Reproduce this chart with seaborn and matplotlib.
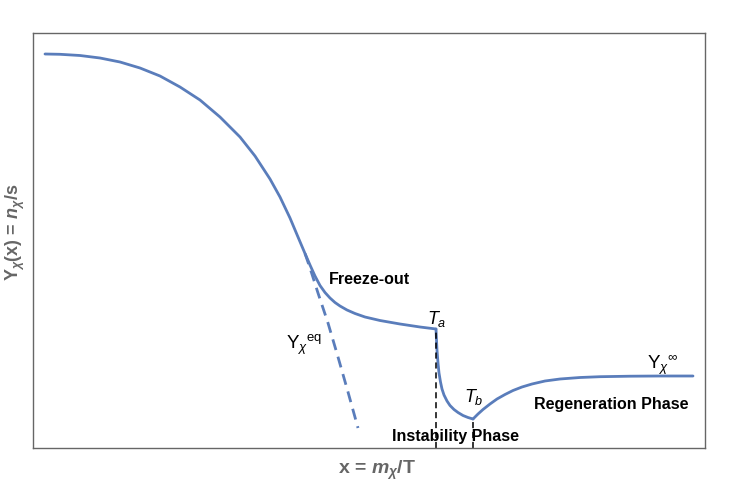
import numpy as np
import pandas as pd
import matplotlib
matplotlib.use("Agg")
import matplotlib.pyplot as plt
import seaborn as sns

# schematic values (x to the right, y upward)
freeze_x = [45, 60, 80, 100, 120, 140, 160, 180, 200, 220, 240, 255, 270, 280, 290, 298, 305,
            310, 315, 320, 325, 330, 335, 340, 347, 355, 365, 380, 400, 420, 436]
freeze_y = [429, 428.7, 427.5, 425, 421, 415, 407, 396, 383, 366, 346, 327, 304, 286, 265, 246,
            229.5, 218, 207, 197.5, 190.5, 185, 180.5, 177, 173, 169.5, 166, 162.5, 159, 156, 154]

drop_x = [436, 436.5, 437, 438, 439, 440.5, 442, 444, 447, 450, 454, 458, 463, 468, 473]
drop_y = [154, 143, 133, 120, 110, 101, 94, 88, 82, 77.5, 73.5, 70.5, 67.5, 65.5, 64]

regen_x = [473, 478, 483, 490, 497, 505, 513, 522, 532, 545, 560, 580, 600, 630, 660, 693]
regen_y = [64, 69, 73.5, 79, 84, 88.5, 92.5, 96, 99, 102, 104, 105.5, 106.3, 106.8, 107, 107]

eq_x = [305, 310, 318, 328, 338, 348, 358]
eq_y = [229.5, 215, 190, 160, 126, 91, 55]

t_a = 436
t_b = 473
y_floor = 35

blue = "#5a7dbb"
grey = "#666666"

sns.set_theme(style="white")
plt.rcParams["font.family"] = ["Liberation Sans", "DejaVu Sans"]
plt.rcParams["text.color"] = "black"
plt.rcParams["mathtext.fontset"] = "custom"
plt.rcParams["mathtext.rm"] = "Liberation Sans"
plt.rcParams["mathtext.it"] = "Liberation Sans:italic"
plt.rcParams["mathtext.bf"] = "Liberation Sans:bold"
plt.rcParams["mathtext.bfit"] = "Liberation Sans:italic:bold"

fig = plt.figure(figsize=(7.4, 4.83), dpi=100)
ax = fig.add_axes([33 / 740, 1 - 448 / 483, 672 / 740, 415 / 483])

line_kw = dict(color=blue, lw=2, sort=False, solid_joinstyle="round", solid_capstyle="round")
sns.lineplot(x=freeze_x, y=freeze_y, ax=ax, **line_kw)
sns.lineplot(x=drop_x, y=drop_y, ax=ax, **line_kw)
sns.lineplot(x=regen_x, y=regen_y, ax=ax, **line_kw)
ax.plot(eq_x, eq_y, color=blue, lw=2, ls=(0, (4, 2.5)))

ax.plot([t_a, t_a], [y_floor, freeze_y[-1]], color="black", lw=1.1, ls=(0, (4, 2.5)))
ax.plot([t_b, t_b], [y_floor, drop_y[-1]], color="black", lw=1.1, ls=(0, (4, 2.5)))

ax.set_xlim(33, 705)
ax.set_ylim(35, 450)
ax.set_xticks([])
ax.set_yticks([])
for s in ax.spines.values():
    s.set_color(grey)
    s.set_linewidth(1)

ax.text(329, 203, "Freeze-out", fontsize=11.5, fontweight="bold", va="center", ha="left")
ax.text(437, 164, "$T_a$", fontsize=13, va="center", ha="center")
ax.text(474, 86, "$T_b$", fontsize=13, va="center", ha="center")
ax.text(286, 138, r"Y$_\chi{}^{\mathrm{eq}}$", fontsize=13.5, va="center", ha="left")
ax.text(455, 47, "Instability Phase", fontsize=11.5, fontweight="bold", va="center", ha="center")
ax.text(611, 78, "Regeneration Phase", fontsize=11.5, fontweight="bold", va="center", ha="center")
ax.text(647, 118, r"Y$_\chi{}^{\infty}$", fontsize=13.5, va="center", ha="left")

ax.set_xlabel(r"x = $\mathbfit{m}_\mathbfit{\chi}$/T", fontsize=14, fontweight="bold", color=grey)
ax.set_ylabel(r"Y$_\mathbfit{\chi}$(x) = $\mathbfit{n}_\mathbfit{\chi}$/s", fontsize=13,
              fontweight="bold", color=grey)
ax.xaxis.set_label_coords(0.512, -0.025)
ax.yaxis.set_label_coords(-0.009, 0.52)

fig.savefig("out.png", dpi=100)
